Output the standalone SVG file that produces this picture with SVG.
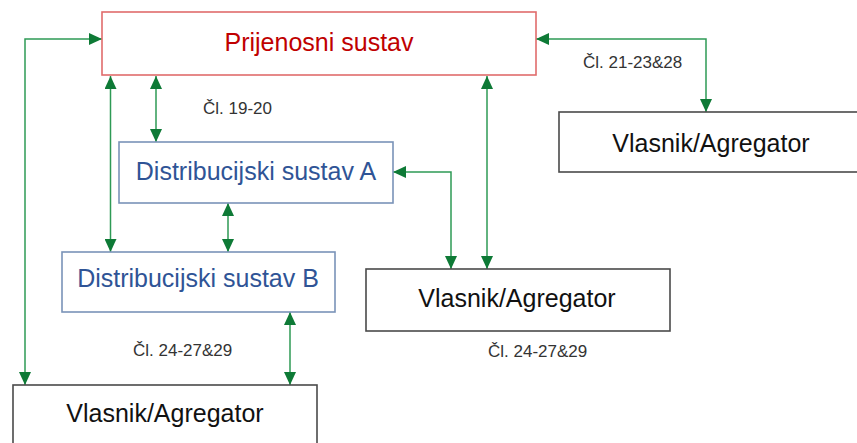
<svg xmlns="http://www.w3.org/2000/svg" width="857" height="443" viewBox="0 0 857 443">
<style>
  .box { fill: #ffffff; stroke-width: 1.6; }
  .red { stroke: #E06C6C; }
  .blue { stroke: #7A93B8; }
  .dark { stroke: #4A4A4A; }
  .t { font-family: "Liberation Sans", Arial, sans-serif; font-size: 25px; text-anchor: middle; }
  .lbl { font-family: "Liberation Sans", Arial, sans-serif; font-size: 17px; fill: #333333; }
  .conn { fill: none; stroke: #2E9A55; stroke-width: 1.5; marker-start: url(#ah); marker-end: url(#ah); }
</style>
<defs>
  <marker id="ah" viewBox="0 0 13 12" refX="13" refY="6" markerWidth="13" markerHeight="12" markerUnits="userSpaceOnUse" orient="auto-start-reverse">
    <path d="M0,0 L13,6 L0,12 z" fill="#0E7A36"/>
  </marker>
</defs>
<rect width="857" height="443" fill="#ffffff"/>
<g id="connectors">
  <path class="conn" d="M25,385 V39 H102"/>
  <path class="conn" d="M110.5,76 V252"/>
  <path class="conn" d="M156,76 V142"/>
  <path class="conn" d="M228,203 V252"/>
  <path class="conn" d="M487,76 V269"/>
  <path class="conn" d="M393,172 H451 V269"/>
  <path class="conn" d="M536,39 H706 V112"/>
  <path class="conn" d="M290,312 V385"/>
</g>
<g id="prijenosni">
  <rect class="box red" x="102" y="12" width="434" height="63"/>
  <text class="t" x="319" y="51" fill="#C00000">Prijenosni sustav</text>
</g>
<g id="distA">
  <rect class="box blue" x="119" y="142" width="274" height="61"/>
  <text class="t" x="256" y="180" fill="#2F5496">Distribucijski sustav A</text>
</g>
<g id="distB">
  <rect class="box blue" x="62" y="252" width="273" height="60"/>
  <text class="t" x="198" y="287" fill="#2F5496">Distribucijski sustav B</text>
</g>
<g id="vlasnikRight">
  <rect class="box dark" x="559" y="112" width="305" height="60"/>
  <text class="t" x="711" y="152" fill="#111111">Vlasnik/Agregator</text>
</g>
<g id="vlasnikMid">
  <rect class="box dark" x="366" y="269" width="304" height="62"/>
  <text class="t" x="517" y="307" fill="#111111">Vlasnik/Agregator</text>
</g>
<g id="vlasnikBottom">
  <rect class="box dark" x="13" y="385" width="304" height="70"/>
  <text class="t" x="165" y="422" fill="#111111">Vlasnik/Agregator</text>
</g>
<g id="labels">
  <text class="lbl" x="203" y="114">Čl. 19-20</text>
  <text class="lbl" x="583" y="68">Čl. 21-23&amp;28</text>
  <text class="lbl" x="133" y="356">Čl. 24-27&amp;29</text>
  <text class="lbl" x="488" y="357">Čl. 24-27&amp;29</text>
</g>
</svg>
